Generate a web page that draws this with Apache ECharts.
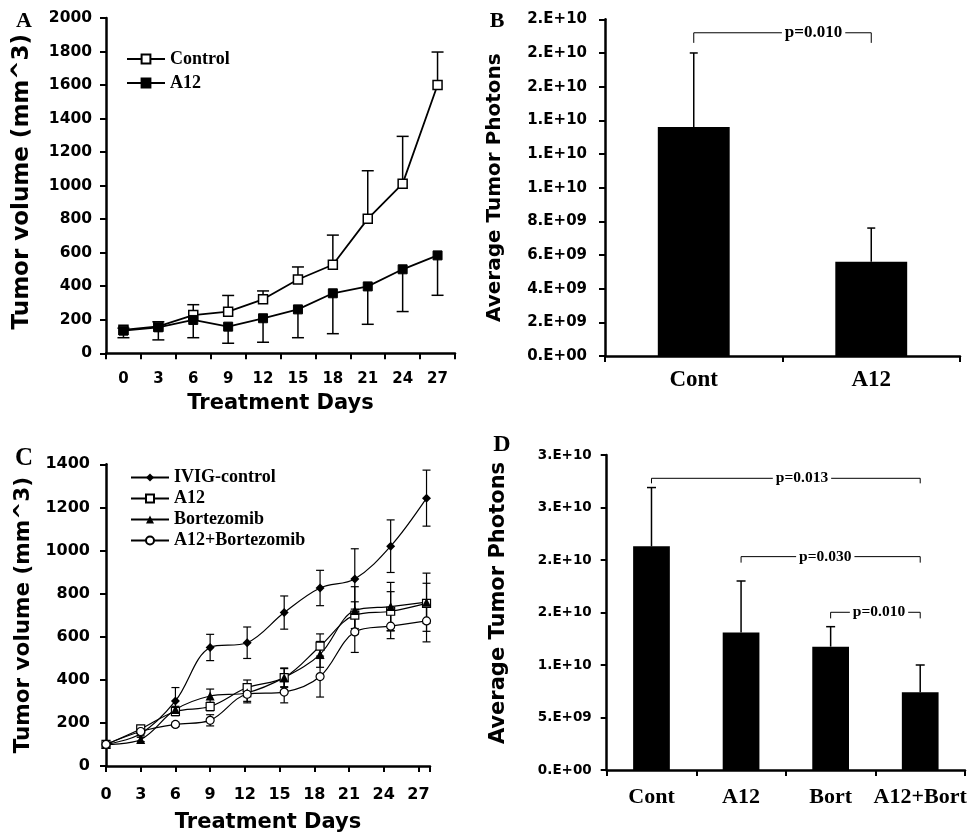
<!DOCTYPE html>
<html><head><meta charset="utf-8">
<script src="https://cdn.jsdelivr.net/npm/echarts@6/dist/echarts.min.js"></script>
<style>html,body{margin:0;padding:0;background:#fff}#c{width:977px;height:834px}</style>
</head><body><div id="c"></div>
<script>
// ---------- Panel A ----------
const daysA = ['0','3','6','9','12','15','18','21','24','27'];
const controlA = [140, 160, 228, 248, 322, 440, 528, 802, 1012, 1600];
const controlAErr = [10, 28, 62, 97, 50, 75, 177, 287, 282, 197];
const a12A = [135, 155, 199, 159, 209, 262, 358, 399, 501, 584];
const a12AErr = [42, 75, 106, 99, 143, 169, 241, 226, 252, 238];
// ---------- Panel B ----------
const catsB = ['Cont', 'A12'];
const photonsB = [1.36e10, 5.6e9];
const photonsBErr = [4.4e9, 2.0e9];
const bracketsB = [{from: 'Cont', to: 'A12', y: 1.92e10, end: 1.86e10, text: 'p=0.010', at: 0.675}];
// ---------- Panel C ----------
const daysC = [0, 3, 6, 9, 12.2, 15.4, 18.5, 21.5, 24.6, 27.7];
const ivigC = [100, 150, 302, 550, 572, 712, 826, 868, 1020, 1243];
const ivigCErr = [0, 10, 62, 61, 73, 77, 82, 140, 122, 130];
const a12C = [100, 172, 253, 276, 364, 410, 556, 700, 718, 755];
const a12CErr = [0, 10, 20, 20, 35, 45, 57, 62, 91, 93];
const bortC = [100, 123, 262, 325, 340, 410, 518, 722, 740, 760];
const bortCErr = [0, 10, 15, 32, 40, 42, 60, 110, 112, 135];
const comboC = [100, 160, 193, 212, 333, 343, 415, 622, 649, 673];
const comboCErr = [0, 10, 10, 26, 40, 50, 95, 95, 58, 97];
// ---------- Panel D ----------
const catsD = ['Cont', 'A12', 'Bort', 'A12+Bort'];
const photonsD = [2.13e10, 1.31e10, 1.175e10, 7.4e9];
const photonsDErr = [5.6e9, 4.9e9, 1.9e9, 2.6e9];
const bracketsD = [
  {from: 'Cont', to: 'A12+Bort', y: 2.778e10, end: 2.73e10, text: 'p=0.013', at: 0.56},
  {from: 'A12', to: 'A12+Bort', y: 2.032e10, end: 1.975e10, text: 'p=0.030', at: 0.47},
  {from: 'Bort', to: 'A12+Bort', y: 1.502e10, end: 1.444e10, text: 'p=0.010', at: 0.54}
];

const SANS = 'DejaVu Sans';
const SERIF = 'Liberation Serif';

function sci(v) {
  const s = Number(v).toExponential(0);
  const parts = s.split('e');
  const sign = parts[1][0];
  const n = Math.abs(parseInt(parts[1], 10));
  return parts[0] + '.E' + sign + (n < 10 ? '0' + n : '' + n);
}
function plain(v) { return String(v); }

function errRender(capHalf, lw) {
  return function (params, api) {
    const x = api.value(0), y0 = api.value(1), y1 = api.value(2);
    const a = api.coord([x, y0]), b = api.coord([x, y1]);
    return {type: 'group', children: [
      {type: 'line', shape: {x1: a[0], y1: a[1], x2: b[0], y2: b[1]}, style: {stroke: '#000', lineWidth: lw}},
      {type: 'line', shape: {x1: b[0] - capHalf, y1: b[1], x2: b[0] + capHalf, y2: b[1]}, style: {stroke: '#000', lineWidth: lw}}
    ]};
  };
}

function bracketRender(list, fontSize) {
  return function (params, api) {
    const b = list[params.dataIndex];
    const x0 = api.value(0), x1 = api.value(1), y = api.value(2), ye = api.value(3);
    const p0 = api.coord([x0, y]), p1 = api.coord([x1, y]), e0 = api.coord([x0, ye]);
    const tx = p0[0] + (p1[0] - p0[0]) * b.at;
    return {type: 'group', children: [
      {type: 'polyline', shape: {points: [[p0[0], e0[1]], [p0[0], p0[1]], [p1[0], p1[1]], [p1[0], e0[1]]]},
        style: {stroke: '#000', lineWidth: 1, fill: null}},
      {type: 'text', style: {text: b.text, x: tx, y: p0[1], align: 'center', verticalAlign: 'middle',
        font: 'bold ' + fontSize + 'px "' + SERIF + '"', fill: '#000', backgroundColor: '#fff', padding: [0, 3]}}
    ]};
  };
}

function upErr(vals, errs) { return vals.map((v, i) => [i, v, v + errs[i]]); }
function downErr(vals, errs) { return vals.map((v, i) => [i, v, v - errs[i]]); }
function symErrC(vals, errs) {
  const out = [];
  vals.forEach((v, i) => { if (errs[i] > 0) { out.push([daysC[i], v, v + errs[i]]); out.push([daysC[i], v, v - errs[i]]); } });
  return out;
}

const axisLineStyle = {show: true, lineStyle: {color: '#000', width: 2.5}};
const axisTickStyle = {show: true, inside: false, length: 6, lineStyle: {color: '#000', width: 2}};

function sansLabel(size, margin, extra) {
  return Object.assign({color: '#000', fontFamily: SANS, fontWeight: 'bold', fontSize: size, margin: margin}, extra || {});
}

const option = {
  animation: false,
  backgroundColor: '#fff',
  grid: [
    {left: 106, top: 18, width: 349, height: 335.3},
    {left: 605, top: 19.3, width: 355, height: 336.7},
    {left: 106, top: 464.3, width: 324, height: 304},
    {left: 606.7, top: 455, width: 358.3, height: 315}
  ],
  xAxis: [
    {type: 'category', gridIndex: 0, data: daysA, boundaryGap: true,
      axisLine: axisLineStyle, axisTick: axisTickStyle,
      axisLabel: sansLabel(15, 18, {interval: 0}),
      name: 'Treatment Days', nameLocation: 'middle', nameGap: 40,
      nameTextStyle: {fontFamily: SANS, fontWeight: 'bold', fontSize: 21, color: '#000'}},
    {type: 'category', gridIndex: 1, data: catsB, boundaryGap: true,
      axisLine: axisLineStyle, axisTick: axisTickStyle,
      axisLabel: {color: '#000', fontFamily: SERIF, fontWeight: 'bold', fontSize: 23, margin: 13, interval: 0}},
    {type: 'value', gridIndex: 2, min: 0, max: 28, interval: 3, splitLine: {show: false},
      axisLine: axisLineStyle, axisTick: axisTickStyle,
      axisLabel: sansLabel(16, 21, {formatter: v => (v % 3 === 0 ? String(v) : '')}),
      name: 'Treatment Days', nameLocation: 'middle', nameGap: 46,
      nameTextStyle: {fontFamily: SANS, fontWeight: 'bold', fontSize: 21, color: '#000'}},
    {type: 'category', gridIndex: 3, data: catsD, boundaryGap: true,
      axisLine: axisLineStyle, axisTick: axisTickStyle,
      axisLabel: {color: '#000', fontFamily: SERIF, fontWeight: 'bold', fontSize: 22, margin: 16, interval: 0, hideOverlap: false}}
  ],
  yAxis: [
    {type: 'value', gridIndex: 0, min: 0, max: 2000, interval: 200, splitLine: {show: false},
      axisLine: axisLineStyle, axisTick: axisTickStyle, axisLabel: sansLabel(15.5, 14, {formatter: plain}),
      name: 'Tumor volume (mm^3)', nameLocation: 'middle', nameGap: 72,
      nameTextStyle: {fontFamily: SANS, fontWeight: 'bold', fontSize: 23, color: '#000', padding: [0, 0, 0, 8]}},
    {type: 'value', gridIndex: 1, min: 0, max: 2e10, interval: 2e9, splitLine: {show: false},
      axisLine: axisLineStyle, axisTick: axisTickStyle, axisLabel: sansLabel(15, 18, {formatter: sci}),
      name: 'Average Tumor Photons', nameLocation: 'middle', nameGap: 100,
      nameTextStyle: {fontFamily: SANS, fontWeight: 'bold', fontSize: 20, color: '#000'}},
    {type: 'value', gridIndex: 2, min: 0, max: 1400, interval: 200, splitLine: {show: false},
      axisLine: axisLineStyle, axisTick: axisTickStyle, axisLabel: sansLabel(16, 16, {formatter: plain}),
      name: 'Tumor volume (mm^3)', nameLocation: 'middle', nameGap: 72,
      nameTextStyle: {fontFamily: SANS, fontWeight: 'bold', fontSize: 21.5, color: '#000'}},
    {type: 'value', gridIndex: 3, min: 0, max: 3e10, interval: 5e9, splitLine: {show: false},
      axisLine: axisLineStyle, axisTick: axisTickStyle, axisLabel: sansLabel(13.5, 15, {formatter: sci}),
      name: 'Average Tumor Photons', nameLocation: 'middle', nameGap: 98,
      nameTextStyle: {fontFamily: SANS, fontWeight: 'bold', fontSize: 21, color: '#000', padding: [0, 0, 0, 19]}}
  ],
  legend: [
    {orient: 'vertical', left: 126, top: 49, padding: 0, itemWidth: 38, itemHeight: 11, itemGap: 4,
      data: ['Control', 'A12'], selectedMode: false,
      textStyle: {fontFamily: SERIF, fontWeight: 'bold', fontSize: 18, color: '#000', lineHeight: 20}},
    {orient: 'vertical', left: 130, top: 468.5, padding: 0, itemWidth: 38, itemHeight: 10, itemGap: 3,
      data: ['IVIG-control', 'C: A12', 'Bortezomib', 'A12+Bortezomib'], selectedMode: false,
      formatter: n => n.replace(/^C: /, ''),
      textStyle: {fontFamily: SERIF, fontWeight: 'bold', fontSize: 18, color: '#000', lineHeight: 16}}
  ],
  graphic: [
    {type: 'text', x: 24, y: 21, style: {text: 'A', align: 'center', verticalAlign: 'middle', font: 'bold 22px "Liberation Serif"', fill: '#000'}},
    {type: 'text', x: 497, y: 21, style: {text: 'B', align: 'center', verticalAlign: 'middle', font: 'bold 22px "Liberation Serif"', fill: '#000'}},
    {type: 'text', x: 24, y: 459, style: {text: 'C', align: 'center', verticalAlign: 'middle', font: 'bold 25px "Liberation Serif"', fill: '#000'}},
    {type: 'text', x: 502, y: 445, style: {text: 'D', align: 'center', verticalAlign: 'middle', font: 'bold 24px "Liberation Serif"', fill: '#000'}}
  ],
  series: [
    // Panel A
    {type: 'custom', xAxisIndex: 0, yAxisIndex: 0, renderItem: errRender(6, 1.5), encode: {x: 0, y: [1, 2]},
      data: upErr(controlA, controlAErr), z: 1, silent: true},
    {type: 'custom', xAxisIndex: 0, yAxisIndex: 0, renderItem: errRender(6, 1.5), encode: {x: 0, y: [1, 2]},
      data: downErr(a12A, a12AErr), z: 1, silent: true},
    {name: 'Control', type: 'line', xAxisIndex: 0, yAxisIndex: 0, data: controlA, symbol: 'rect', symbolSize: 9,
      itemStyle: {color: '#fff', borderColor: '#000', borderWidth: 1.5}, lineStyle: {color: '#000', width: 1.8}, z: 3},
    {name: 'A12', type: 'line', xAxisIndex: 0, yAxisIndex: 0, data: a12A, symbol: 'rect', symbolSize: 9,
      itemStyle: {color: '#000', borderColor: '#000', borderWidth: 1}, lineStyle: {color: '#000', width: 1.8}, z: 3},
    // Panel B
    {type: 'bar', xAxisIndex: 1, yAxisIndex: 1, data: photonsB, barWidth: '40.5%', itemStyle: {color: '#000'}},
    {type: 'custom', xAxisIndex: 1, yAxisIndex: 1, renderItem: errRender(4, 1.5), encode: {x: 0, y: [1, 2]},
      data: upErr(photonsB, photonsBErr), z: 3, silent: true},
    {type: 'custom', xAxisIndex: 1, yAxisIndex: 1, renderItem: bracketRender(bracketsB, 17), encode: {x: [0, 1], y: [2, 3]},
      data: bracketsB.map(b => [catsB.indexOf(b.from), catsB.indexOf(b.to), b.y, b.end]), z: 4, silent: true},
    // Panel C
    {type: 'custom', xAxisIndex: 2, yAxisIndex: 2, renderItem: errRender(4, 1.2), encode: {x: 0, y: [1, 2]},
      data: symErrC(ivigC, ivigCErr).concat(symErrC(a12C, a12CErr), symErrC(bortC, bortCErr), symErrC(comboC, comboCErr)), z: 1, silent: true},
    {name: 'IVIG-control', type: 'line', xAxisIndex: 2, yAxisIndex: 2, smooth: 0.35, data: daysC.map((d, i) => [d, ivigC[i]]),
      symbol: 'diamond', symbolSize: 9, itemStyle: {color: '#000'}, lineStyle: {color: '#000', width: 1.2}, z: 3},
    {name: 'C: A12', type: 'line', xAxisIndex: 2, yAxisIndex: 2, smooth: 0.35, data: daysC.map((d, i) => [d, a12C[i]]),
      symbol: 'rect', symbolSize: 8, itemStyle: {color: '#fff', borderColor: '#000', borderWidth: 1.2}, lineStyle: {color: '#000', width: 1.2}, z: 3},
    {name: 'Bortezomib', type: 'line', xAxisIndex: 2, yAxisIndex: 2, smooth: 0.35, data: daysC.map((d, i) => [d, bortC[i]]),
      symbol: 'triangle', symbolSize: 9, itemStyle: {color: '#000'}, lineStyle: {color: '#000', width: 1.2}, z: 3},
    {name: 'A12+Bortezomib', type: 'line', xAxisIndex: 2, yAxisIndex: 2, smooth: 0.35, data: daysC.map((d, i) => [d, comboC[i]]),
      symbol: 'circle', symbolSize: 8, itemStyle: {color: '#fff', borderColor: '#000', borderWidth: 1.2}, lineStyle: {color: '#000', width: 1.2}, z: 3},
    // Panel D
    {type: 'bar', xAxisIndex: 3, yAxisIndex: 3, data: photonsD, barWidth: '41%', itemStyle: {color: '#000'}},
    {type: 'custom', xAxisIndex: 3, yAxisIndex: 3, renderItem: errRender(4.5, 1.5), encode: {x: 0, y: [1, 2]},
      data: upErr(photonsD, photonsDErr), z: 3, silent: true},
    {type: 'custom', xAxisIndex: 3, yAxisIndex: 3, renderItem: bracketRender(bracketsD, 15.5), encode: {x: [0, 1], y: [2, 3]},
      data: bracketsD.map(b => [catsD.indexOf(b.from), catsD.indexOf(b.to), b.y, b.end]), z: 4, silent: true}
  ]
};

const chart = echarts.init(document.getElementById('c'));
chart.setOption(option);
</script>
</body></html>
